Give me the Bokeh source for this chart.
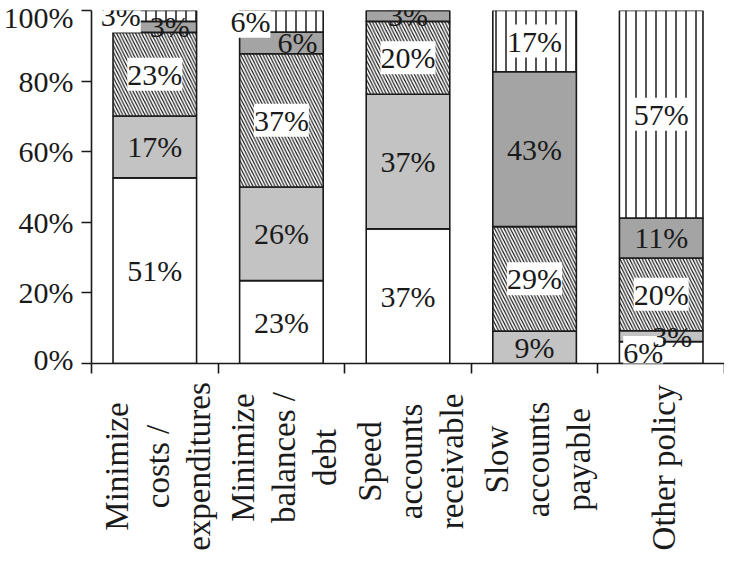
import numpy as np
from bokeh.plotting import figure
from bokeh.layouts import column
from bokeh.models import ColumnDataSource, LabelSet, FixedTicker, Range1d
from bokeh.core.properties import value
from bokeh.embed import file_html
from bokeh.resources import INLINE

# ---- data ----
categories = [
    "Minimize\ncosts /\nexpenditures",
    "Minimize\nbalances /\ndebt",
    "Speed\naccounts\nreceivable",
    "Slow\naccounts\npayable",
    "Other policy",
]
s_white = [51, 23, 37, 0, 6]
s_light = [17, 26, 37, 9, 3]
s_hatch = [23, 37, 20, 29, 20]
s_dark = [3, 6, 3, 43, 11]
s_vert = [3, 6, 0, 17, 57]
y_ticks = [0, 20, 40, 60, 80, 100]
y_tick_labels = ["0%", "20%", "40%", "60%", "80%", "100%"]

series = [s_white, s_light, s_hatch, s_dark, s_vert]

# ---- styles ----
FONT = "Liberation Serif"
INK = "#1a1a1a"
fills = ["white", "#c3c3c3", "white", "#a4a4a4", "white"]
hatches = [" ", " ", "\\", " ", "|"]
hatch_scales = [1, 1, 6.3, 1, 10]
hatch_weights = [1, 1, 1.2, 1, 1.5]
label_bg = ["white", None, "white", None, "white"]
label_dx = [
    [0, 0, 0, 0, -18],
    [0, 0, 0, 0, 11],
    [0, 0, 0, 0, 0],
    [15, 16, 0, 0, 0],
    [-34, -31, 0, 0, 0],
]
cat_line_gap = 41
cat_center_px = [91, 82, 86, 84, 92]   # distance below top of label strip
W = 724
BORDER_L = 88
TOP_H = 375
BOT_H = 180

n = len(categories)
xs = np.arange(n) + 0.5
vals = np.array(series, dtype=float)
totals = vals.sum(axis=0)
shares = vals / totals * 100.0
tops = np.cumsum(shares, axis=0)
bottoms = tops - shares

x_range = Range1d(0, n)
p = figure(width=W, height=TOP_H, output_backend="svg", toolbar_location=None,
           x_range=x_range, y_range=Range1d(0, 100),
           min_border_left=BORDER_L, min_border_right=0, min_border_top=10, min_border_bottom=12)
p.outline_line_color = None
p.xgrid.visible = False
p.ygrid.visible = False

for k in range(len(series)):
    src = ColumnDataSource(dict(x=xs, top=tops[k], bottom=bottoms[k]))
    p.vbar(x="x", top="top", bottom="bottom", width=0.66, source=src,
           fill_color=fills[k], line_color=INK, line_width=1.6,
           hatch_pattern=hatches[k], hatch_color=INK,
           hatch_scale=hatch_scales[k], hatch_weight=hatch_weights[k])

for k in range(len(series)):
    idx = [i for i in range(n) if vals[k][i] > 0]
    src = ColumnDataSource(dict(
        x=[xs[i] for i in idx],
        y=[(tops[k][i] + bottoms[k][i]) / 2 for i in idx],
        text=[f"{int(vals[k][i])}%" for i in idx],
        dx=[label_dx[k][i] for i in idx],
    ))
    kw = {}
    if label_bg[k]:
        kw["background_fill_color"] = label_bg[k]
    ls = LabelSet(x="x", y="y", text="text", x_offset="dx", source=src,
                  text_font=FONT, text_font_size="30px", text_color=INK,
                  text_align="center", text_baseline="middle", **kw)
    p.add_layout(ls)

# axes
p.yaxis.ticker = FixedTicker(ticks=y_ticks)
p.yaxis.major_label_overrides = {t: l for t, l in zip(y_ticks, y_tick_labels)}
p.yaxis.major_label_text_font = FONT
p.yaxis.major_label_text_font_size = "30px"
p.yaxis.major_label_text_color = INK
p.yaxis.major_label_standoff = 8
p.yaxis.major_tick_out = 10
p.yaxis.major_tick_in = 0
p.yaxis.minor_tick_line_color = None
p.yaxis.axis_line_width = 1.6
p.yaxis.major_tick_line_width = 1.6
p.yaxis.axis_line_color = INK
p.yaxis.major_tick_line_color = INK

p.xaxis.ticker = FixedTicker(ticks=list(range(n + 1)))
p.xaxis.major_label_overrides = {i: "" for i in range(n + 1)}
p.xaxis.major_label_text_font_size = "1px"
p.xaxis.major_label_standoff = 0
p.xaxis.major_tick_out = 10
p.xaxis.major_tick_in = 0
p.xaxis.minor_tick_line_color = None
p.xaxis.axis_line_width = 1.6
p.xaxis.major_tick_line_width = 1.6
p.xaxis.axis_line_color = INK
p.xaxis.major_tick_line_color = INK

# ---- category label strip (multi-line rotated labels) ----
q = figure(width=W, height=BOT_H, output_backend="svg", toolbar_location=None,
           x_range=x_range, y_range=Range1d(-BOT_H, 0),
           min_border_left=BORDER_L, min_border_right=0, min_border_top=0, min_border_bottom=0)
q.axis.visible = False
q.xgrid.visible = False
q.ygrid.visible = False
q.outline_line_color = None

cx, cy, ctext, cdx = [], [], [], []
for i, c in enumerate(categories):
    lines = c.split("\n")
    m = len(lines)
    for j, ln in enumerate(lines):
        cx.append(xs[i])
        cy.append(-cat_center_px[i])
        ctext.append(ln)
        cdx.append((j - (m - 1) / 2) * cat_line_gap + 3)
csrc = ColumnDataSource(dict(x=cx, y=cy, text=ctext, dx=cdx))
q.text(x="x", y="y", text="text", x_offset="dx", source=csrc, angle=np.pi / 2,
       text_font=value(FONT), text_font_size="33px", text_color=INK,
       text_align="center", text_baseline="middle")

layout = column(p, q, spacing=0)
open("out.html", "w").write(file_html(layout, INLINE))
